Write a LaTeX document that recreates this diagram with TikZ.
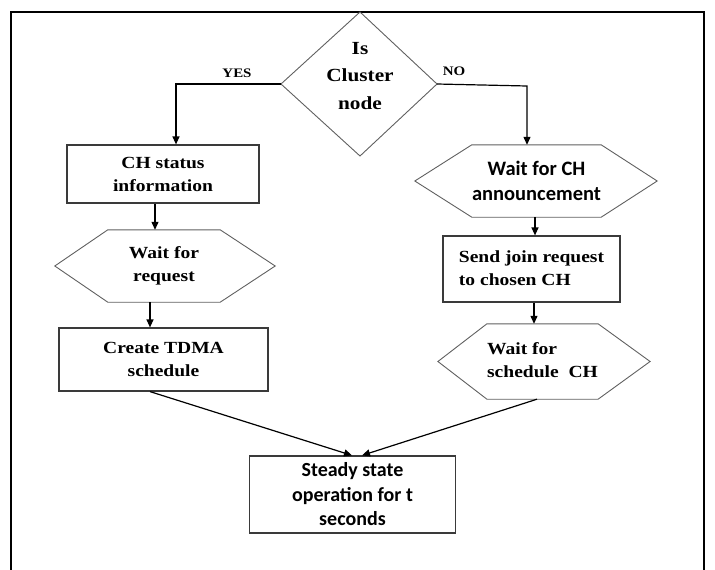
\documentclass[tikz,border=0pt]{standalone}
\usepackage{fontspec}
\setmainfont{Liberation Serif}[FakeStretch=1.15]
\newfontfamily\calib{Carlito}
\usetikzlibrary{arrows.meta}
\definecolor{shapegray}{HTML}{606060}
\definecolor{boxgray}{HTML}{3A3A3A}
\tikzset{
  x=1pt, y=-1pt,
  serifbox/.style={draw=boxgray, line width=1.2pt, inner sep=0pt, align=center,
    font=\fontsize{17}{23}\selectfont\bfseries},
  hextext/.style={inner sep=0pt, align=center, font=\fontsize{17}{23}\selectfont\bfseries},
  hexline/.style={draw=shapegray, line width=0.9pt},
  arr/.style={draw=black, line width=1.2pt, -{Triangle[length=8pt,width=7pt]}},
  lbl/.style={font=\fontsize{13}{15}\selectfont\bfseries, inner sep=0pt}
}
\begin{document}
\begin{tikzpicture}
\useasboundingbox (0,0) rectangle (715,570);
% outer frame
\draw[line width=2.5pt] (11,571) -- (11,12) -- (704,12) -- (704,571);

% decision diamond
\coordinate (dt) at (360,12);
\coordinate (dr) at (437,84);
\coordinate (db) at (360,156);
\coordinate (dl) at (281,84);
\draw[hexline] (dt) -- (dr) -- (db) -- (dl) -- cycle;
\node[hextext, font=\fontsize{18.5}{27.5}\selectfont\bfseries] (q) at (360,76) {Is\\Cluster\\node};
\node[lbl] (yes) at (237,73) {YES};
\node[lbl] (no) at (454,71) {NO};

% left column
\node[serifbox, minimum width=192pt, minimum height=58pt] (n1) at (163,174) {CH status\\information};
\node[hextext, minimum width=112pt, minimum height=72pt] (h1) at (164,266) {Wait for\\request};
\draw[hexline] ([xshift=-53pt]h1.west) -- (h1.north west) -- (h1.north east) -- ([xshift=55pt]h1.east) -- (h1.south east) -- (h1.south west) -- cycle;
\node[serifbox, minimum width=209pt, minimum height=63pt] (n2) at (163.5,359.5) {Create TDMA\\schedule};

% right column
\node[hextext, minimum width=113pt, minimum height=72pt,
      font=\calib\fontsize{20.5}{25}\selectfont\bfseries] (h2) at (536.5,181) {Wait for CH\\announcement};
\draw[hexline] ([xshift=-57pt]h2.west) -- (h2.north west) -- (h2.north east) -- ([xshift=56pt]h2.east) -- (h2.south east) -- (h2.south west) -- cycle;
\node[serifbox, minimum width=177pt, minimum height=66pt] (n3) at (531.5,269) {\begin{tabular}{@{}l@{}}Send join request\\[0pt]to chosen CH\end{tabular}};
\node[hextext, minimum width=101pt, minimum height=75pt] (h3) at (542.5,361.5) {\begin{tabular}{@{}l@{}}Wait for\\[0pt]schedule\ \ CH\end{tabular}};
\draw[hexline] ([xshift=-49pt]h3.west) -- (h3.north west) -- (h3.north east) -- ([xshift=52pt]h3.east) -- (h3.south east) -- (h3.south west) -- cycle;

% final box
\node[serifbox, minimum width=206pt, minimum height=77pt,
      font=\calib\fontsize{20}{24.5}\selectfont\bfseries] (n4) at (352.5,494.5) {Steady state\\operation for t\\seconds};

% connectors
\coordinate (lturn) at (176,84);
\coordinate (rturn) at (527,86);
\draw[arr] (dl) -- (lturn) -- (lturn |- n1.north);
\draw[arr] (dr) -- (rturn) -- (rturn |- h2.north);
\coordinate (c1) at (155,0);
\coordinate (c2) at (150,0);
\coordinate (c3) at (535,0);
\coordinate (c4) at (534,0);
\draw[arr] (n1.south -| c1) -- (h1.north -| c1);
\draw[arr] (h1.south -| c2) -- (n2.north -| c2);
\draw[arr] (h2.south -| c3) -- (n3.north -| c3);
\draw[arr] (n3.south -| c4) -- (h3.north -| c4);
\coordinate (e1) at (150,0);
\coordinate (e2) at (537,0);
\coordinate (t1) at (352,0);
\coordinate (t2) at (362,0);
\draw[arr] (n2.south -| e1) -- (n4.north -| t1);
\draw[arr] (h3.south -| e2) -- (n4.north -| t2);
\end{tikzpicture}
\end{document}
